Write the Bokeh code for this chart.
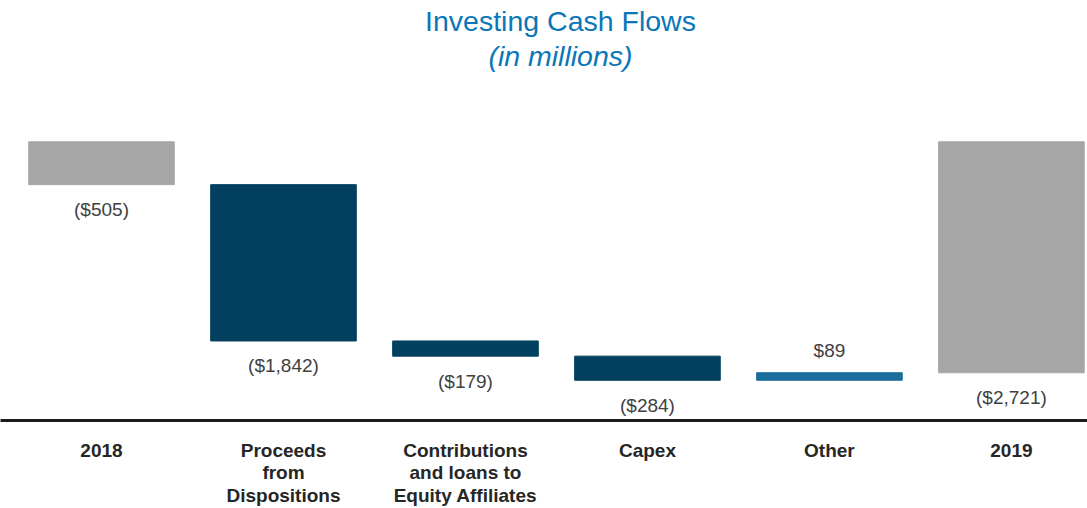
from bokeh.plotting import figure
from bokeh.models import Range1d, FixedTicker, Label, ColumnDataSource
from bokeh.embed import file_html
from bokeh.resources import INLINE
from bokeh.core.properties import value

categories = ["2018", "Proceeds\nfrom\nDispositions", "Contributions\nand loans to\nEquity Affiliates", "Capex", "Other", "2019"]
values = [-505, -1842, -179, -284, 89, -2721]
labels = ["($505)", "($1,842)", "($179)", "($284)", "$89", "($2,721)"]
kinds = ["total", "step", "step", "step", "step", "total"]

colors_map = {"total": "#a6a6a6", "neg": "#033f5e", "pos": "#1a6d9c"}

xs = list(range(len(categories)))
bottoms, tops, cols, ly, loff = [], [], [], [], []
running = 0
for v, k in zip(values, kinds):
    if k == "total":
        start, end = 0, v
        running = v
        c = colors_map["total"]
    else:
        start, end = running, running + v
        running = end
        c = colors_map["pos"] if v > 0 else colors_map["neg"]
    bottoms.append(min(start, end))
    tops.append(max(start, end))
    cols.append(c)
    if v > 0:
        ly.append(max(start, end)); loff.append(-22)
    else:
        ly.append(min(start, end)); loff.append(25)

src = ColumnDataSource(dict(x=xs, bottom=bottoms, top=tops, color=cols, ly=ly, loff=loff, label=labels))

p = figure(width=1087, height=508, output_backend="svg", toolbar_location=None,
           x_range=Range1d(-0.555, 5.418), y_range=Range1d(-3284, 1665),
           min_border_left=0, min_border_right=0, min_border_top=0, min_border_bottom=86)
p.outline_line_color = None
p.grid.visible = False
p.yaxis.visible = False
p.background_fill_color = "white"

p.vbar(x="x", bottom="bottom", top="top", width=0.8, color="color", source=src)
p.text(x="x", y="ly", text="label", y_offset="loff", source=src,
       text_align="center", text_baseline="middle", text_font=value("Liberation Sans"),
       text_font_size="19px", text_color="#404040")

xa = p.xaxis[0]
xa.ticker = FixedTicker(ticks=xs)
xa.major_label_overrides = {i: c for i, c in enumerate(categories)}
xa.major_tick_line_color = None
xa.minor_tick_line_color = None
xa.axis_line_width = 3
xa.axis_line_color = "#1a1a1a"
xa.major_label_text_font = "Liberation Sans"
xa.major_label_text_font_style = "bold"
xa.major_label_text_font_size = "19px"
xa.major_label_text_color = "#262626"
xa.major_label_text_line_height = 1.08
xa.major_label_standoff = 13

p.add_layout(Label(x=560, y=400, x_units="screen", y_units="screen", text="Investing Cash Flows",
                   text_align="center", text_baseline="middle", text_font="Liberation Sans",
                   text_font_size="28.5px", text_color="#0a77b8"))
p.add_layout(Label(x=560, y=365, x_units="screen", y_units="screen", text="(in millions)",
                   text_align="center", text_baseline="middle", text_font="Liberation Sans",
                   text_font_style="italic", text_font_size="28.5px", text_color="#0a77b8"))

open("out.html", "w").write(file_html(p, INLINE))
